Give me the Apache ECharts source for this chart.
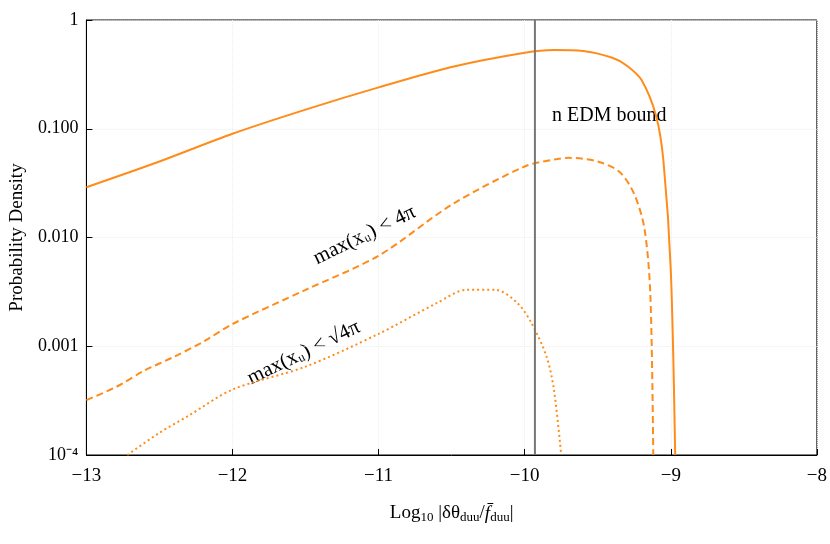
<!DOCTYPE html>
<html><head><meta charset="utf-8">
<script src="https://cdn.jsdelivr.net/npm/echarts@6/dist/echarts.min.js"></script>
<style>html,body{margin:0;padding:0;background:#fff}#c{width:830px;height:544px}</style>
</head><body><div id="c"></div>
<script>
const xTicks=[-13,-12,-11,-10,-9,-8];
const yTickLabels={'0.0001':'10⁻⁴','0.001':'0.001','0.01':'0.010','0.1':'0.100','1':'1'};
const solidX=[-13,-12.5,-12,-11.5,-11,-10.5,-10,-9.8,-9.6,-9.4,-9.3,-9.2,-9.1,-9.05,-9.0,-8.97];
const solidY=[0.029,0.05,0.09,0.15,0.24,0.37,0.5,0.53,0.52,0.45,0.38,0.28,0.13,0.05,0.005,0.0001];
const dashX=[-13,-12.8,-12.6,-12.4,-12.2,-12,-11.5,-11,-10.5,-10,-9.8,-9.7,-9.5,-9.35,-9.25,-9.18,-9.14,-9.12];
const dashY=[3.2e-4,4.2e-4,6e-4,8e-4,1.1e-3,1.6e-3,3.3e-3,6.8e-3,0.02,0.045,0.052,0.054,0.05,0.04,0.025,0.012,0.003,0.0001];
const dotX=[-12.72,-12.5,-12.3,-12,-11.5,-11,-10.6,-10.4,-10.2,-10.05,-9.95,-9.85,-9.8,-9.75];
const dotY=[1e-4,1.6e-4,2.3e-4,4e-4,6.5e-4,1.3e-3,2.5e-3,3.3e-3,3.3e-3,2.5e-3,1.6e-3,8e-4,4e-4,1e-4];
const edmX=-9.93;
const z=(xs,ys)=>xs.map((x,i)=>[x,ys[i]]);
const C='#ff8c1a', F='Liberation Serif';
const ch=echarts.init(document.getElementById('c'));
const ln=(d,t)=>({type:'line',data:d,showSymbol:false,smooth:0.3,lineStyle:{color:C,width:2,type:t},clip:true});
ch.setOption({
 animation:false,
 grid:{left:80,right:10,top:20,bottom:89,show:true,borderColor:'#000',borderWidth:1},
 xAxis:{type:'value',min:-13,max:-8,interval:1,
  name:'{n|Log}{s|10}{n| |δθ}{s|duu}{n|/}{i|f̄}{s|duu}{n||}',nameLocation:'middle',nameGap:48,
  nameTextStyle:{rich:{n:{fontFamily:F,fontSize:19,color:'#000'},i:{fontFamily:F,fontSize:19,fontStyle:'italic',color:'#000'},s:{fontFamily:F,fontSize:13,color:'#000',padding:[8,0,0,0]}}},
  axisLine:{lineStyle:{color:'#000'}},axisTick:{inside:true,length:6,lineStyle:{color:'#000'}},
  axisLabel:{fontFamily:F,fontSize:19,color:'#000',margin:12,formatter:v=>v<0?'−'+(-v):v},
  splitLine:{show:true,lineStyle:{color:'#eee',type:'dotted'}}},
 yAxis:{type:'log',min:1e-4,max:1,logBase:10,
  name:'Probability Density',nameLocation:'middle',nameGap:55,nameTextStyle:{fontFamily:F,fontSize:19,color:'#000'},
  axisLine:{lineStyle:{color:'#000'}},axisTick:{inside:true,length:6,lineStyle:{color:'#000'}},
  axisLabel:{fontFamily:F,fontSize:18,color:'#000',formatter:v=>yTickLabels[String(+v.toPrecision(3))]||''},
  splitLine:{show:true,lineStyle:{color:'#eee',type:'dotted'}}},
 series:[
  ln(z(solidX,solidY),'solid'),
  ln(z(dashX,dashY),[7,4]),
  ln(z(dotX,dotY),[2,3]),
  {type:'line',data:[[edmX,1e-4],[edmX,1]],showSymbol:false,lineStyle:{color:'#777',width:2}}
 ],
 graphic:[
  {type:'text',left:552,top:106,style:{text:'n EDM bound',font:'20px '+F,fill:'#000'}},
  {type:'text',x:310,y:250,rotation:0.45,style:{text:'max(xᵤ) < 4π',font:'21px '+F,fill:'#000'}},
  {type:'text',x:244,y:370,rotation:0.45,style:{text:'max(xᵤ) < √4π',font:'21px '+F,fill:'#000'}}
 ]
});
</script></body></html>
